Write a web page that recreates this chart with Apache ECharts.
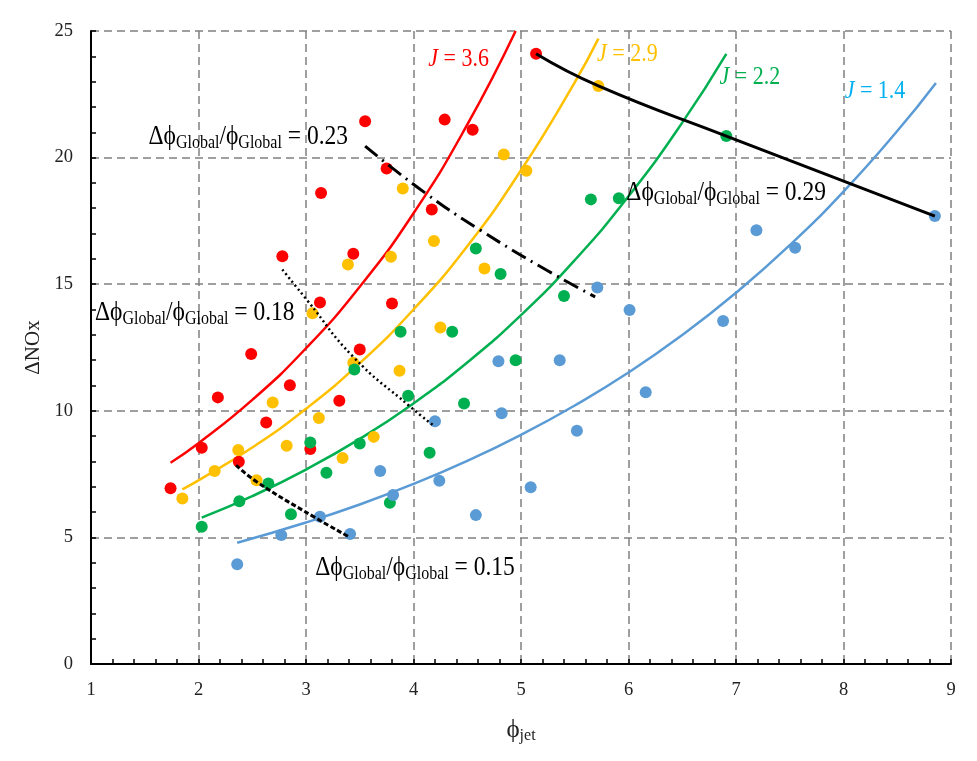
<!DOCTYPE html>
<html>
<head>
<meta charset="utf-8">
<script src="https://cdn.jsdelivr.net/npm/echarts@6/dist/echarts.min.js"></script>
<style>
  html, body { margin: 0; padding: 0; background: #fff; }
  #main { width: 977px; height: 761px; }
</style>
</head>
<body>
<div id="main"></div>
<script>
// Measured NOx increase vs. jet equivalence ratio, grouped by momentum-flux ratio J
const redPts = [[5.14,24.1],[3.55,21.44],[4.29,21.5],[4.55,21.1],[3.14,18.6],[3.75,19.57],[4.17,17.95],
  [2.78,16.1],[3.44,16.2],[3.13,14.28],[3.80,14.24],[3.50,12.42],[2.49,12.24],[2.85,11.01],[2.18,10.53],
  [3.31,10.4],[2.63,9.54],[2.03,8.54],[3.04,8.49],[2.375,7.99],[1.74,6.94]];
const yellowPts = [[5.72,22.83],[4.84,20.12],[5.05,19.48],[3.90,18.78],[4.19,16.71],[3.79,16.08],[4.66,15.62],
  [3.39,15.78],[3.06,13.85],[3.44,11.9],[4.25,13.29],[3.87,11.58],[2.69,10.33],[3.12,9.72],[2.82,8.62],
  [2.37,8.45],[3.34,8.14],[3.63,8.97],[2.15,7.62],[2.54,7.26],[1.85,6.54]];
const greenPts = [[6.91,20.85],[5.65,18.35],[5.91,18.39],[4.58,16.41],[4.81,15.40],[5.40,14.53],[3.88,13.12],
  [4.36,13.12],[4.95,12.0],[3.45,11.63],[3.95,10.59],[4.47,10.29],[4.15,8.34],[3.04,8.75],[3.50,8.71],
  [3.19,7.55],[2.65,7.13],[2.38,6.43],[2.86,5.91],[3.78,6.37],[2.03,5.42]];
const bluePts = [[8.85,17.69],[7.19,17.13],[7.55,16.44],[5.71,14.87],[6.01,13.98],[6.88,13.55],[4.79,11.96],
  [5.36,12.0],[6.16,10.73],[4.82,9.90],[4.20,9.59],[5.52,9.21],[3.69,7.62],[4.24,7.24],[5.09,6.98],
  [4.58,5.88],[3.81,6.67],[3.13,5.82],[3.41,5.13],[2.77,5.09],[2.36,3.94]];

// Trend curves for each J
const redFit = [[1.74,7.95],[2,8.72],[2.5,10.43],[3,12.47],[3.5,14.9],[4,17.8],[4.5,21.3],[4.95,25.0]];
const yellowFit = [[1.85,6.9],[2,7.25],[2.5,8.55],[3,10.08],[3.5,11.88],[4,14.0],[4.5,16.5],[5,19.5],[5.5,22.97],[5.72,24.7]];
const greenFit = [[2.03,5.78],[2.5,6.63],[3,7.68],[3.5,8.89],[4,10.29],[4.5,11.91],[5,13.78],[5.5,15.95],[6,18.47],[6.5,21.38],[6.91,24.1]];
const blueFit = [[2.36,4.79],[3,5.59],[3.5,6.30],[4,7.11],[4.5,8.02],[5,9.05],[5.5,10.21],[6,11.51],[6.5,12.99],[7,14.66],[7.5,16.54],[8,18.66],[8.5,21.05],[8.86,22.95]];

// Lines of constant global equivalence-ratio fluctuation
const iso029 = [[5.14,24.1],[5.72,22.83],[6.91,20.85],[8.85,17.69]];
const iso023 = [[3.55,20.45],[4.11,18.6],[4.62,17.14],[5.24,15.55],[5.69,14.5]];
const iso018 = [[2.78,15.58],[3.01,14.37],[3.44,12.13],[3.97,10.16],[4.20,9.37]];
const iso015 = [[2.35,7.85],[2.54,7.2],[3.07,5.82],[3.41,5.0]];

// Annotation anchors (left edge, vertical middle) and texts
const jLabels = [
  { pos: [4.138, 23.9], value: '3.6', color: '#FF0000' },
  { pos: [5.708, 24.09], value: '2.9', color: '#FFC000' },
  { pos: [6.847, 23.17], value: '2.2', color: '#00B050' },
  { pos: [8.011, 22.61], value: '1.4', color: '#00B0F0' }
];
const ratioLabels = [
  { pos: [1.534, 20.82], value: '0.23' },
  { pos: [5.98, 18.59], value: '0.29' },
  { pos: [1.037, 13.88], value: '0.18' },
  { pos: [3.086, 3.79], value: '0.15' }
];

const xTicks = [1, 9, 1];   // min, max, interval
const yTicks = [0, 25, 5];

const SERIF = '"Liberation Serif", "Times New Roman", serif';
const PHI = '\u03D5';
const chart = echarts.init(document.getElementById('main'), null, { renderer: 'canvas' });

function dots(data, color) {
  return { type: 'scatter', data, symbolSize: 12, itemStyle: { color, opacity: 1 }, z: 3, silent: true };
}
function curve(data, color, width, type, z) {
  return { type: 'line', data, smooth: true, showSymbol: false, symbol: 'none', silent: true,
    lineStyle: { color, width, type: type || 'solid' }, z: z || 2 };
}

const gridLine = { show: true, lineStyle: { color: '#808080', width: 1.5, type: [8, 5] } };

chart.setOption({
  animation: false,
  backgroundColor: '#fff',
  grid: { left: 91, right: 26, top: 31, bottom: 97, containLabel: false },
  xAxis: {
    type: 'value', min: xTicks[0], max: xTicks[1], interval: xTicks[2],
    axisLine: { show: true, onZero: false, lineStyle: { color: '#000', width: 2 } },
    axisTick: { show: true, inside: true, length: 5, lineStyle: { color: '#000', width: 1.5 } },
    minorTick: { show: true, splitNumber: 5, length: 5, lineStyle: { color: '#000', width: 1.5 } },
    axisLabel: { color: '#222', fontFamily: SERIF, fontSize: 18.5, margin: 17 },
    splitLine: gridLine,
    name: '{p|' + PHI + '}{s|jet}', nameLocation: 'middle', nameGap: 52,
    nameTextStyle: { rich: {
      p: { fontFamily: SERIF, fontSize: 25, color: '#222', lineHeight: 28 },
      s: { fontFamily: SERIF, fontSize: 16, color: '#222', lineHeight: 16, verticalAlign: 'bottom' }
    } }
  },
  yAxis: {
    type: 'value', min: yTicks[0], max: yTicks[1], interval: yTicks[2],
    axisLine: { show: true, onZero: false, lineStyle: { color: '#000', width: 2 } },
    axisTick: { show: true, inside: true, length: 5, lineStyle: { color: '#000', width: 1.5 } },
    minorTick: { show: true, splitNumber: 5, length: 5, lineStyle: { color: '#000', width: 1.5 } },
    axisLabel: { color: '#222', fontFamily: SERIF, fontSize: 18.5, margin: 18 },
    splitLine: gridLine,
    name: 'ΔNOx', nameLocation: 'middle', nameGap: 40, nameRotate: 90,
    nameTextStyle: { fontFamily: SERIF, fontSize: 21, color: '#222' }
  },
  series: [
    curve(redFit, '#FF0000', 2.5),
    curve(yellowFit, '#FFC000', 2.5),
    curve(greenFit, '#00B050', 2.5),
    curve(blueFit, '#5B9BD5', 2.5),
    dots(redPts, '#FF0000'),
    dots(yellowPts, '#FFC000'),
    dots(greenPts, '#00B050'),
    dots(bluePts, '#5B9BD5'),
    curve(iso029, '#000', 3, 'solid', 5),
    curve(iso023, '#000', 3, [16, 6, 2, 6], 5),
    curve(iso018, '#000', 2.5, [2, 3], 5),
    curve(iso015, '#000', 3, [5, 2.5], 5)
  ]
});

// Text annotations placed at data coordinates
const graphics = [];
jLabels.forEach(l => {
  const p = chart.convertToPixel({ gridIndex: 0 }, l.pos);
  graphics.push({
    type: 'text', x: p[0], y: p[1], scaleY: 1.15, z: 10, silent: true,
    style: {
      text: '{i|J}{n| = ' + l.value + '}',
      verticalAlign: 'middle', align: 'left',
      rich: {
        i: { fontFamily: SERIF, fontSize: 22, fontStyle: 'italic', fill: l.color },
        n: { fontFamily: SERIF, fontSize: 22, fill: l.color }
      }
    }
  });
});
ratioLabels.forEach(l => {
  const p = chart.convertToPixel({ gridIndex: 0 }, l.pos);
  graphics.push({
    type: 'text', x: p[0], y: p[1], scaleY: 1.15, z: 10, silent: true,
    style: {
      text: '{m|Δ' + PHI + '}{s|Global}{m|/' + PHI + '}{s|Global}{m| = ' + l.value + '}',
      verticalAlign: 'middle', align: 'left',
      rich: {
        m: { fontFamily: SERIF, fontSize: 23.5, fill: '#000', lineHeight: 27 },
        s: { fontFamily: SERIF, fontSize: 16, fill: '#000', lineHeight: 15, verticalAlign: 'bottom' }
      }
    }
  });
});
chart.setOption({ graphic: graphics });
</script>
</body>
</html>
